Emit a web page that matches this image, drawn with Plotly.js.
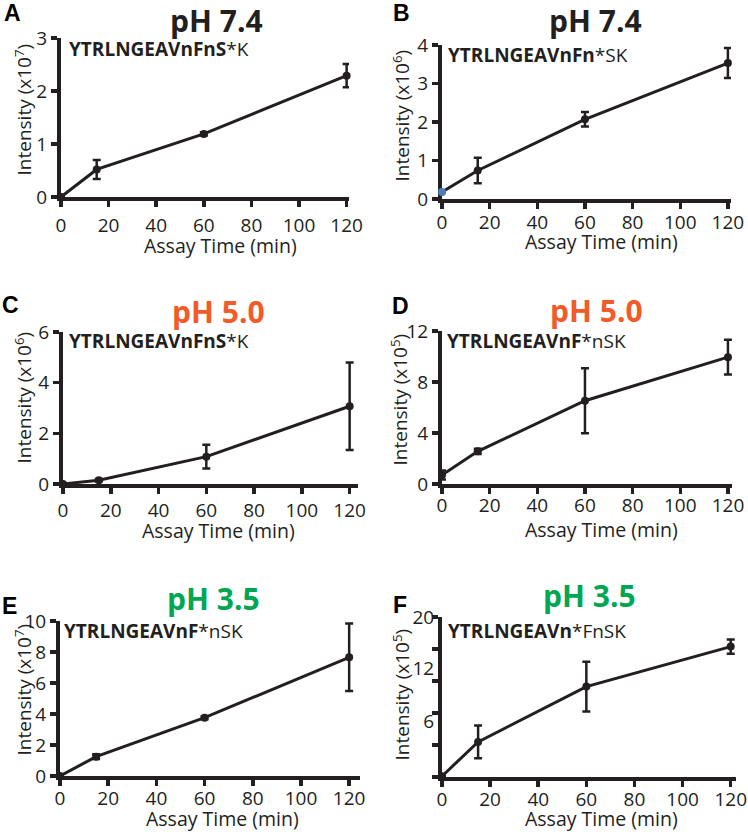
<!DOCTYPE html>
<html><head><meta charset="utf-8">
<script src="https://cdn.plot.ly/plotly-3.0.1.min.js"></script>
<style>html,body{margin:0;padding:0;background:#fff}#chart{width:748px;height:832px}</style>
</head><body><div id="chart"></div>
<script>
// ---- data ----
const timeMin = [0, 15, 60, 120];
const xTickVals = [0, 20, 40, 60, 80, 100, 120];
const xTitle = 'Assay Time (min)';

const panelLetters = ['A', 'B', 'C', 'D', 'E', 'F'];
const panelPH = ['pH 7.4', 'pH 7.4', 'pH 5.0', 'pH 5.0', 'pH 3.5', 'pH 3.5'];
const peptideBold = ['YTRLNGEAVnFnS', 'YTRLNGEAVnFn', 'YTRLNGEAVnFnS', 'YTRLNGEAVnF', 'YTRLNGEAVnF', 'YTRLNGEAVn'];
const peptideRest = ['*K', '*SK', '*K', '*nSK', '*nSK', '*FnSK'];
const yExponent = ['7', '6', '6', '5', '7', '5'];

const valA = [0, 0.52, 1.19, 2.29];
const errA = [0, 0.18, 0.03, 0.22];
const valB = [0.18, 0.74, 2.07, 3.53];
const errB = [0, 0.33, 0.19, 0.39];
const valC = [0, 0.15, 1.08, 3.07];
const errC = [0, 0.05, 0.47, 1.73];
const valD = [0.7, 2.56, 6.53, 9.95];
const errD = [0.35, 0.2, 2.55, 1.37];
const valE = [0, 1.25, 3.76, 7.66];
const errE = [0, 0.15, 0.1, 2.18];
const valF = [0.1, 4.39, 11.3, 16.3];
const errF = [0, 2.05, 3.1, 0.9];

const yTop = [3, 4, 6, 12, 10, 20];
const yTickValsA = [0, 1, 2, 3];
const yTickValsB = [0, 1, 2, 3, 4];
const yTickValsC = [0, 2, 4, 6];
const yTickValsD = [0, 4, 8, 12];
const yTickValsE = [0, 2, 4, 6, 8, 10];
const yTickMarksF = [0, 4, 8, 12, 16, 20];
const yLabelValsF = [7.0, 13.6, 20];
const yLabelTextF = ['6', '12', '20'];

const pH_COLORS = {'pH 7.4': '#231f20', 'pH 5.0': '#f15a29', 'pH 3.5': '#00a651'};
// ---- layout ----
const W = 748, H = 832;
const INK = '#231f20';
const FONT = '"Open Sans", "Liberation Sans", sans-serif';
const px = v => v / W;
const py = v => 1 - v / H;

// plot boxes in pixels [left, right, top, bottom] and x range end
const boxes = [
  [61, 349, 38, 197, 121],
  [442, 731, 45, 199, 121.3],
  [63, 358, 332, 484, 123.5],
  [442, 732, 331, 484, 121.7],
  [60, 360, 621, 776, 124.5],
  [442, 736, 617, 777, 122.2]
];
const xLabelStandoff = [2, -3, 0, -5, -4, -4];
const titlePos = [[216, 20.5], [595, 21], [218, 311.5], [596, 310.7], [214, 598], [589, 595]];
const letterPos = [[12.5, 13], [401, 13], [10, 305], [400, 305.5], [9.5, 605.5], [399.5, 605]];
const pepPos = [[67, 48.7], [446, 54.5], [67, 341], [445, 341], [62, 630.5], [446, 630.5]];
const xTitlePos = [[220, 245.5], [601, 241.5], [218, 530], [601, 529.5], [222, 818], [601, 818]];
const yTitlePos = [[23.5, 110], [401.5, 116], [23.5, 398], [399.5, 400], [23.5, 690], [401.5, 695]];

const vals = [valA, valB, valC, valD, valE, valF];
const errs = [errA, errB, errC, errD, errE, errF];
const yTicks = [yTickValsA, yTickValsB, yTickValsC, yTickValsD, yTickValsE, null];

const traces = [];
const layout = {
  width: W, height: H, margin: {l: 0, r: 0, t: 0, b: 0},
  paper_bgcolor: '#fff', plot_bgcolor: 'rgba(0,0,0,0)',
  showlegend: false, font: {family: FONT, color: INK, size: 19},
  annotations: []
};

for (let i = 0; i < 6; i++) {
  const n = i === 0 ? '' : String(i + 1);
  const b = boxes[i];
  traces.push({
    type: 'scatter', mode: 'lines+markers',
    x: timeMin, y: vals[i],
    xaxis: 'x' + n, yaxis: 'y' + n,
    cliponaxis: false,
    line: {color: INK, width: 3},
    marker: {size: 8, color: timeMin.map((t, k) => (i === 1 && k === 0) ? '#4a7ebb' : INK)},
    error_y: {type: 'data', array: errs[i], visible: true, color: INK, thickness: 2.5, width: 4},
    hoverinfo: 'x+y'
  });
  layout['xaxis' + n] = {
    domain: [px(b[0]), px(b[1])], anchor: 'y' + n,
    range: [0, b[4]], tickvals: xTickVals, ticks: 'outside', ticklen: 6, tickwidth: 3.5, tickcolor: INK,
    showline: true, linewidth: 4, linecolor: INK, showgrid: false, zeroline: false, layer: 'below traces',
    tickfont: {size: 19, color: INK, family: FONT}, ticklabelstandoff: xLabelStandoff[i],
    automargin: false, fixedrange: true
  };
  const ya = {
    domain: [py(b[3]), py(b[2])], anchor: 'x' + n,
    range: [0, yTop[i]], ticks: 'outside', ticklen: 6, tickwidth: 3.5, tickcolor: INK,
    showline: true, linewidth: 4, linecolor: INK, showgrid: false, zeroline: false, layer: 'below traces',
    tickfont: {size: 19, color: INK, family: FONT},
    automargin: false, fixedrange: true
  };
  if (yTicks[i]) {
    ya.tickvals = yTicks[i];
  } else {
    ya.tickvals = yLabelValsF; ya.ticktext = yLabelTextF; ya.ticks = '';
    ya.minor = {tickvals: yTickMarksF, ticks: 'outside', ticklen: 6, tickwidth: 3.5, tickcolor: INK, showgrid: false};
  }
  layout['yaxis' + n] = ya;

  layout.annotations.push({
    xref: 'paper', yref: 'paper', x: px(xTitlePos[i][0]), y: py(xTitlePos[i][1]),
    xanchor: 'center', yanchor: 'middle', showarrow: false,
    text: xTitle, font: {size: 19.5, color: INK, family: FONT}
  });
  layout.annotations.push({
    xref: 'paper', yref: 'paper', x: px(yTitlePos[i][0]), y: py(yTitlePos[i][1]),
    xanchor: 'center', yanchor: 'middle', showarrow: false, textangle: -90,
    text: 'Intensity (x10<sup>' + yExponent[i] + '</sup>)', font: {size: 19, color: INK, family: FONT}
  });
  layout.annotations.push({
    xref: 'paper', yref: 'paper', x: px(titlePos[i][0]), y: py(titlePos[i][1]),
    xanchor: 'center', yanchor: 'middle', showarrow: false,
    text: '<b>' + panelPH[i] + '</b>', font: {size: 30, color: pH_COLORS[panelPH[i]], family: FONT}
  });
  layout.annotations.push({
    xref: 'paper', yref: 'paper', x: px(letterPos[i][0]), y: py(letterPos[i][1]),
    xanchor: 'center', yanchor: 'middle', showarrow: false,
    text: '<b>' + panelLetters[i] + '</b>', font: {size: 23, color: '#000', family: '"Liberation Sans", Arial, sans-serif'}
  });
  layout.annotations.push({
    xref: 'paper', yref: 'paper', x: px(pepPos[i][0]), y: py(pepPos[i][1]),
    xanchor: 'left', yanchor: 'middle', showarrow: false,
    text: '<b>' + peptideBold[i] + '</b>' + peptideRest[i], font: {size: 19, color: INK, family: FONT}
  });
}

Plotly.newPlot('chart', traces, layout, {staticPlot: true, displayModeBar: false});
</script>
</body></html>
